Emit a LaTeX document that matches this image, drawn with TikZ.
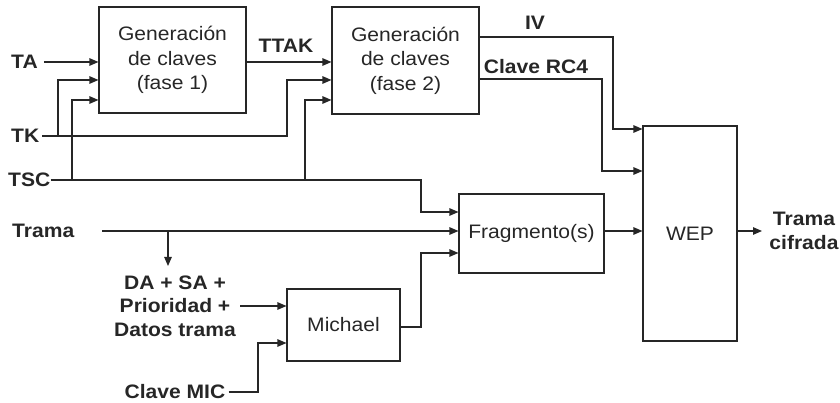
\documentclass[tikz,border=0pt]{standalone}
\usepackage{fontspec}
\setmainfont{Liberation Sans}[FakeStretch=1.08]
\usetikzlibrary{arrows.meta,calc}
\definecolor{ink}{HTML}{262626}
\begin{document}
\begin{tikzpicture}[x=1pt,y=-1pt,
  line/.style={draw=ink, line width=1.1pt},
  arr/.style={line, -{Triangle[length=9pt,width=7.5pt]}},
  box/.style={draw=ink, line width=1.1pt, align=center, inner sep=0pt, text=ink, font=\fontsize{19.5}{24.5}\selectfont},
  lbl/.style={inner sep=0pt, align=center, text=ink, font=\bfseries\fontsize{19.5}{23.5}\selectfont}]
\useasboundingbox (0,0) rectangle (840,403);
% boxes
\node[box, minimum width=147pt, minimum height=106pt] (b1) at (172.5,60) {Generación\\de claves\\(fase 1)};
\node[box, minimum width=147pt, minimum height=107pt] (b2) at (405.5,60.5) {Generación\\de claves\\(fase 2)};
\node[box, minimum width=145pt, minimum height=79pt] (fr) at (531.5,233.5) {Fragmento(s)};
\node[box, minimum width=113pt, minimum height=72pt] (mi) at (343.5,325) {Michael};
\node[box, minimum width=94pt, minimum height=215pt] (wep) at (690,233.5) {WEP};
% labels
\node[lbl, anchor=west] (ta) at (11,62) {TA};
\node[lbl, anchor=west] (tk) at (11,136) {TK};
\node[lbl, anchor=west] (tsc) at (8,180) {TSC};
\node[lbl, anchor=west] (trama) at (12,231) {Trama};
\node[lbl] (da) at (175,306) {DA + SA +\\Prioridad +\\Datos trama};
\node[lbl] (mic) at (175,392) {Clave MIC};
\node[lbl] (ttak) at (286,46) {TTAK};
\node[lbl] (iv) at (535,23) {IV};
\node[lbl] (rc4) at (536,67) {Clave RC4};
\node[lbl] (out) at (804,231) {Trama\\cifrada};
% coordinates
\coordinate (b1k) at ($(b1.west)+(0,20)$);
\coordinate (b1s) at ($(b1.west)+(0,40)$);
\coordinate (b2k) at ($(b2.west)+(0,19.5)$);
\coordinate (b2s) at ($(b2.west)+(0,39.5)$);
\coordinate (kj1) at (58,136);
\coordinate (kj2) at (287,136);
\coordinate (sj1) at (72,180);
\coordinate (sj2) at (305,180);
\coordinate (sj3) at (421,180);
\coordinate (tj) at (168,231);
\coordinate (tjend) at (168,266);
\coordinate (mj) at (258,392);
\coordinate (mo) at (421,327);
\coordinate (ivj) at (613,37);
\coordinate (rj) at (602,79);
\coordinate (wo) at (762,231);
% connectors
\draw[arr] ([xshift=6pt]ta.east) -- (b1.west |- ta.east);
\draw[arr] (b1.east |- ta.east) -- (b2.west |- ta.east);
\draw[arr] ([xshift=3pt]tk.east) -- (kj2) |- (b2k);
\draw[arr] (kj1) |- (b1k);
\draw[arr] (tsc.east) -- (sj3) |- ($(fr.west)+(0,-21.5)$);
\draw[arr] (sj1) |- (b1s);
\draw[arr] (sj2) |- (b2s);
\draw[arr] ([xshift=28pt]trama.east) -- (fr.west |- trama.east);
\draw[arr] (tj) -- (tjend);
\draw[arr] ([xshift=4pt]da.east) -- (mi.west |- da.east);
\draw[arr] ([xshift=3pt]mic.east) -- (mj) |- ($(mi.west)+(0,18)$);
\draw[arr] ($(mi.east)+(0,2)$) -- (mo) |- ($(fr.west)+(0,19.5)$);
\draw[arr] (fr.east |- trama.east) -- (wep.west |- trama.east);
\draw[arr] (b2.east |- ivj) -- (ivj) |- ($(wep.west)+(0,-104.5)$);
\draw[arr] (b2.east |- rj) -- (rj) |- ($(wep.west)+(0,-62.5)$);
\draw[arr] (wep.east |- wo) -- (wo);
\end{tikzpicture}
\end{document}
